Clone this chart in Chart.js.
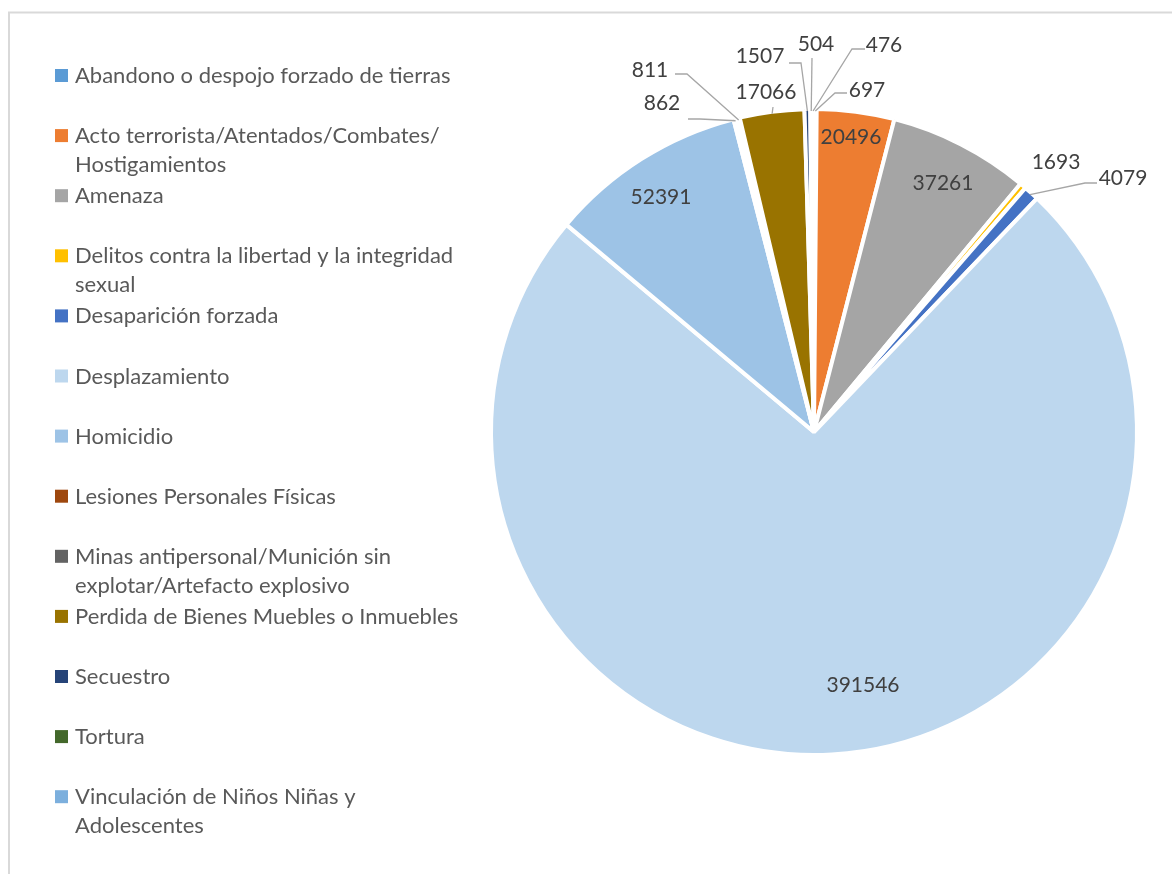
<!DOCTYPE html>
<html>
<head>
<meta charset="utf-8">
<script src="https://cdn.jsdelivr.net/npm/chart.js@4.4.1/dist/chart.umd.min.js"></script>
<style>
  html, body { margin: 0; padding: 0; background: #fff; }
  #wrap { position: relative; width: 1172px; height: 874px; }
</style>
</head>
<body>
<div id="wrap"><canvas id="grafico" width="1172" height="874"></canvas></div>
<script>
const categorias = [
    'Abandono o despojo forzado de tierras',
    'Acto terrorista/Atentados/Combates/Hostigamientos',
    'Amenaza',
    'Delitos contra la libertad y la integridad sexual',
    'Desaparición forzada',
    'Desplazamiento',
    'Homicidio',
    'Lesiones Personales Físicas',
    'Minas antipersonal/Munición sin explotar/Artefacto explosivo',
    'Perdida de Bienes Muebles o Inmuebles',
    'Secuestro',
    'Tortura',
    'Vinculación de Niños Niñas y Adolescentes'
]
const victimas = [697, 20496, 37261, 1693, 4079, 391546, 52391, 862, 811, 17066, 1507, 504, 476]
const colores = [
    '#5B9BD5', '#ED7D31', '#A5A5A5', '#FFC000', '#4472C4', '#BDD7EE', '#9DC3E6',
    '#9E480E', '#636363', '#997300', '#264478', '#43682B', '#7CAFDD'
]

// donde va cada número, medido desde el centro de la torta
// guia: puntos de la línea guía relativos al texto (el último se une al borde de la porción)
const etiquetas = [
    { dx: 53, dy: -342, guia: [[-20, 3], [-32, 3]] },
    { dx: 37, dy: -295 },
    { dx: 129, dy: -249 },
    { dx: 242, dy: -270 },
    { dx: 309, dy: -254, guia: [[-26, 5], [-38, 5]] },
    { dx: 49, dy: 253 },
    { dx: -153, dy: -235 },
    { dx: -152, dy: -329, guia: [[26, 16], [38, 16]] },
    { dx: -164, dy: -362, guia: [[25, 4], [37, 4]] },
    { dx: -48, dy: -340, guia: [[7, 15]] },
    { dx: -54, dy: -376, guia: [[29, 7], [41, 7]] },
    { dx: 2, dy: -388, guia: [[-4, 14]] },
    { dx: 70, dy: -387, guia: [[-19, 4], [-32, 4]] }
]

const fuente = 'Lato, "Open Sans", sans-serif'

// parte el texto en espacios y después de cada "/"
function partirTexto(ctx, texto, ancho) {
    const trozos = texto.match(/[^ \/]*[ \/]|[^ \/]+$/g)
    const lineas = []
    let linea = ''
    trozos.forEach(t => {
        if (linea && ctx.measureText((linea + t).trimEnd()).width > ancho) {
            lineas.push(linea.trimEnd())
            linea = t
        } else {
            linea += t
        }
    })
    if (linea) lineas.push(linea.trimEnd())
    return lineas
}

const marco = {
    id: 'marco',
    beforeDraw(chart) {
        const ctx = chart.ctx
        ctx.save()
        ctx.strokeStyle = '#d9d9d9'
        ctx.lineWidth = 2
        ctx.beginPath()
        ctx.moveTo(9, chart.height)
        ctx.lineTo(9, 12.5)
        ctx.lineTo(chart.width, 12.5)
        ctx.stroke()
        ctx.restore()
    }
}

const leyenda = {
    id: 'leyenda',
    afterDraw(chart) {
        const ctx = chart.ctx
        ctx.save()
        ctx.font = '22px ' + fuente
        ctx.textBaseline = 'middle'
        categorias.forEach((cat, i) => {
            const y = 76 + i * 60.1
            ctx.fillStyle = colores[i]
            ctx.fillRect(55, y - 7, 13, 13)
            ctx.fillStyle = '#595959'
            partirTexto(ctx, cat, 395).forEach((l, j) => {
                ctx.fillText(l, 75, y + j * 29)
            })
        })
        ctx.restore()
    }
}

const valores = {
    id: 'valores',
    afterDatasetsDraw(chart) {
        const ctx = chart.ctx
        const arcos = chart.getDatasetMeta(0).data
        ctx.save()
        ctx.font = '21px ' + fuente
        ctx.textAlign = 'center'
        ctx.textBaseline = 'middle'
        arcos.forEach((arco, i) => {
            const pos = etiquetas[i]
            const lx = arco.x + pos.dx
            const ly = arco.y + pos.dy
            if (pos.guia) {
                const medio = (arco.startAngle + arco.endAngle) / 2
                const r = arco.outerRadius - 2
                ctx.strokeStyle = '#a6a6a6'
                ctx.lineWidth = 1.3
                ctx.beginPath()
                pos.guia.forEach(([gx, gy], k) => {
                    if (k === 0) ctx.moveTo(lx + gx, ly + gy)
                    else ctx.lineTo(lx + gx, ly + gy)
                })
                ctx.lineTo(arco.x + Math.cos(medio) * r, arco.y + Math.sin(medio) * r)
                ctx.stroke()
            }
            ctx.fillStyle = '#404040'
            ctx.fillText(String(victimas[i]), lx, ly)
        })
        ctx.restore()
    }
}

const ctx = document.getElementById('grafico')

new Chart(ctx, {
    type: 'pie',
    data: {
        labels: categorias,
        datasets: [{
            data: victimas,
            backgroundColor: colores,
            borderColor: '#ffffff',
            borderWidth: 4,
            borderJoinStyle: 'bevel'
        }]
    },
    options: {
        responsive: false,
        animation: false,
        radius: 323,
        layout: { padding: { left: 491, top: 109, right: 35, bottom: 119 } },
        plugins: {
            legend: { display: false },
            tooltip: { enabled: false }
        }
    },
    plugins: [marco, valores, leyenda]
})
</script>
</body>
</html>
